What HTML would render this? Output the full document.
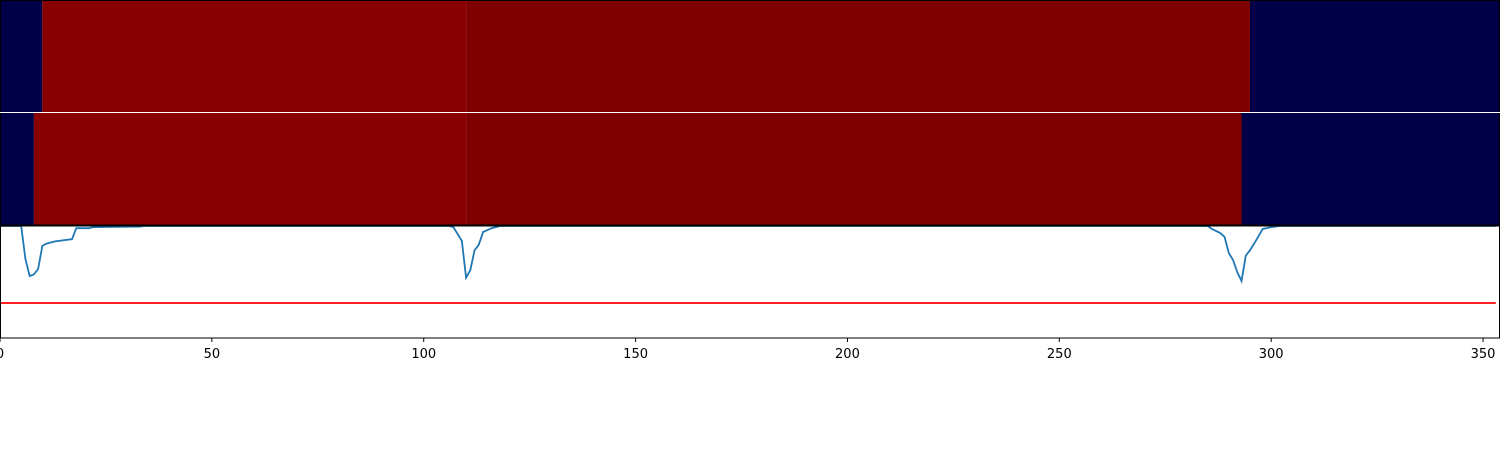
<!DOCTYPE html>
<html><head><meta charset="utf-8"><style>
html,body{margin:0;padding:0;background:#fff;}
svg{display:block;font-family:"DejaVu Sans","Liberation Sans",sans-serif;}
</style></head><body>
<svg id="chart" width="1500" height="450" viewBox="0 0 1500 450"></svg>
<script>
// heatmap segments (x units)
const row1Starts = [0, 10, 110, 295];
const row1Ends = [10, 110, 295, 354];
const row1Vals = [0, 0.98, 0.97, 0];
const row2Starts = [0, 8, 110, 293];
const row2Ends = [8, 110, 293, 354];
const row2Vals = [0, 0.98, 0.97, 0];
// line series knots
const lineX = [0,5,6,7,8,9,10,11,13,17,18,21,22,33,34,106,107,109,110,111,112,113,114,116,118,285,286,288,289,290,291,292,293,294,295,296.5,298,300,302,353];
const lineY = [0,0,-0.3,-0.455,-0.44,-0.39,-0.18,-0.16,-0.14,-0.12,-0.02,-0.02,-0.01,-0.005,0,0,-0.01,-0.136,-0.47,-0.4,-0.22,-0.17,-0.055,-0.02,0,0,-0.027,-0.064,-0.1,-0.245,-0.31,-0.42,-0.5,-0.27,-0.22,-0.127,-0.027,-0.01,0,0];
const threshold = -0.7;
const xTicks = [0,50,100,150,200,250,300,350];

const NS='http://www.w3.org/2000/svg';
const svg=document.getElementById('chart');
const X0=0,X1=1500,xMin=0,xMax=354;
const sx=v=>X0+(v-xMin)/(xMax-xMin)*(X1-X0);
const P3top=226,P3bot=338;
const sy=v=>P3top+(-v)*110;
function mk(tag,attrs){const e=document.createElementNS(NS,tag);for(const k in attrs)e.setAttribute(k,attrs[k]);svg.appendChild(e);return e;}
function col(v){return v>0.975?'#880000':(v>0.5?'#7f0000':'#000048');}
function drawRow(starts,ends,vals,top,h,name){
  for(let i=0;i<starts.length;i++){
    const r=mk('rect',{x:sx(starts[i]),y:top,width:sx(ends[i])-sx(starts[i]),height:h,fill:col(vals[i])});
    
    
  }
}
drawRow(row1Starts,row1Ends,row1Vals,0,112,'top-heatmap');
drawRow(row2Starts,row2Ends,row2Vals,113,113,'middle-heatmap');
// line
let d='';
for(let i=0;i<lineX.length;i++){d+=(i?'L':'M')+sx(lineX[i]).toFixed(2)+','+sy(lineY[i]).toFixed(2);}
const clip=mk('clipPath',{id:'c3'});
const cr=document.createElementNS(NS,'rect');cr.setAttribute('x',0);cr.setAttribute('y',226);cr.setAttribute('width',1500);cr.setAttribute('height',112);clip.appendChild(cr);
const ln=mk('path',{d:d,fill:'none',stroke:'#1f77b4','stroke-width':1.8,'clip-path':'url(#c3)'});


const th=mk('line',{x1:sx(0),x2:sx(353),y1:sy(threshold),y2:sy(threshold),stroke:'#ff0000','stroke-width':1.8});


// spines
const ax=mk('rect',{x:0.5,y:226,width:1499,height:112,fill:'none',stroke:'#000','stroke-width':1});


mk('line',{x1:0,x2:1500,y1:225.5,y2:225.5,stroke:'#000','stroke-width':1});
mk('rect',{x:0.5,y:0.5,width:1499,height:224.5,fill:'none',stroke:'#000','stroke-width':1});
mk('line',{x1:0,x2:1500,y1:112.5,y2:112.5,stroke:'#fff','stroke-width':1});
xTicks.forEach(t=>{
  const x=sx(t);
  const tk=mk('line',{x1:x,x2:x,y1:338,y2:342,stroke:'#000','stroke-width':1});
  
  
  const tx=mk('text',{x:x,y:358,'text-anchor':'middle','font-size':13,fill:'#000'});
  tx.textContent=t;
  
  
});
</script>
</body></html>
